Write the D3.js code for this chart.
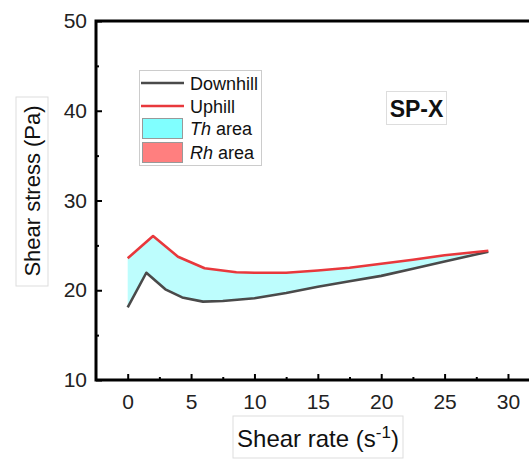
<!DOCTYPE html>
<html>
<head>
<meta charset="utf-8">
<script src="https://cdn.jsdelivr.net/npm/d3@7"></script>
<style>
  html, body { margin: 0; padding: 0; background: #fff; }
  svg { display: block; font-family: Arial, "Liberation Sans", sans-serif; }
</style>
</head>
<body>
<svg id="chart" width="529" height="461"></svg>
<script>
// Shear-rate sweeps (s^-1) and measured shear stress (Pa)
const downhillRate   = [0, 1.47, 2.97, 4.3, 5.94, 7.5, 10, 12.5, 15, 17.5, 20, 22.5, 25, 28.45];
const downhillStress = [18.1, 21.95, 20.1, 19.2, 18.73, 18.8, 19.1, 19.7, 20.4, 21.0, 21.6, 22.4, 23.2, 24.3];
const uphillRate     = [0, 2.0, 3.97, 6.07, 8.57, 10, 12.5, 15, 17.5, 20, 22.5, 25, 28.45];
const uphillStress   = [23.56, 26.04, 23.74, 22.45, 22.0, 21.95, 21.95, 22.2, 22.5, 22.95, 23.4, 23.9, 24.4];

const xTicks = [0, 5, 10, 15, 20, 25, 30];
const yTicks = [10, 20, 30, 40, 50];
const legendItems = ["Downhill", "Uphill", "Th area", "Rh area"];
const sampleName = "SP-X";

const svg = d3.select("#chart");
const x = d3.scaleLinear().domain([-2.5, 33]).range([96, 546]);
const y = d3.scaleLinear().domain([10, 50]).range([380, 21]);

const down = downhillRate.map((r, i) => [r, downhillStress[i]]);
const up = uphillRate.map((r, i) => [r, uphillStress[i]]);

// Thixotropic loop area between the two sweeps
const loop = up.concat(down.slice().reverse());
svg.append("path")
  .attr("d", d3.line().x(d => x(d[0])).y(d => y(d[1]))(loop) + "Z")
  .attr("fill", "#bdfdfd")
  .attr("stroke", "none");

const line = d3.line().x(d => x(d[0])).y(d => y(d[1]));
svg.append("path").attr("d", line(down))
  .attr("fill", "none").attr("stroke", "#4a4a4a").attr("stroke-width", 2.6)
  .attr("stroke-linejoin", "round");
svg.append("path").attr("d", line(up))
  .attr("fill", "none").attr("stroke", "#e8383c").attr("stroke-width", 2.6)
  .attr("stroke-linejoin", "round");

// Axes with inward ticks
const xAxis = svg.append("g").attr("transform", "translate(0,380)")
  .call(d3.axisBottom(x).tickValues(d3.range(0, 32.5, 2.5)).tickSize(0).tickFormat(""));
xAxis.select(".domain").remove();
xAxis.selectAll(".tick line")
  .attr("y2", d => (d % 5 === 0 ? -6 : -3))
  .attr("stroke", "#000").attr("stroke-width", 2);
svg.append("g").attr("transform", "translate(0,380)")
  .call(d3.axisBottom(x).tickValues(xTicks).tickSize(0).tickPadding(14))
  .call(g => g.select(".domain").remove())
  .selectAll("text").attr("font-size", 21).attr("fill", "#222")
  .attr("font-family", "Arial, 'Liberation Sans', sans-serif");

const yAxis = svg.append("g").attr("transform", "translate(96,0)")
  .call(d3.axisLeft(y).tickValues(d3.range(10, 50.1, 5)).tickSize(0).tickFormat(""));
yAxis.select(".domain").remove();
yAxis.selectAll(".tick line")
  .attr("x2", d => (d % 10 === 0 ? 6 : 3))
  .attr("stroke", "#000").attr("stroke-width", 2);
svg.append("g").attr("transform", "translate(96,0)")
  .call(d3.axisLeft(y).tickValues(yTicks).tickSize(0).tickPadding(9))
  .call(g => g.select(".domain").remove())
  .selectAll("text").attr("font-size", 21).attr("fill", "#222")
  .attr("font-family", "Arial, 'Liberation Sans', sans-serif");

// Frame lines
svg.append("path")
  .attr("d", `M${x(33)},${y(10)}H${x(-2.5)}V${y(50)}H${x(33)}`)
  .attr("fill", "none").attr("stroke", "#000").attr("stroke-width", 3);

// Axis titles in thin boxes
svg.append("rect").attr("x", 233).attr("y", 416).attr("width", 170).attr("height", 42)
  .attr("fill", "#fff").attr("stroke", "#ddd").attr("stroke-width", 1);
const xt = svg.append("text").attr("x", 318).attr("y", 447).attr("text-anchor", "middle")
  .attr("font-size", 24).attr("fill", "#111");
xt.append("tspan").text("Shear rate (s");
xt.append("tspan").attr("font-size", 17).attr("dy", -9).text("-1");
xt.append("tspan").attr("dy", 9).text(")");

svg.append("rect").attr("x", 16).attr("y", 97).attr("width", 32).attr("height", 189)
  .attr("fill", "#fff").attr("stroke", "#ddd").attr("stroke-width", 1);
svg.append("text").attr("transform", "translate(40,191) rotate(-90)")
  .attr("text-anchor", "middle").attr("font-size", 22).attr("fill", "#111")
  .text("Shear stress (Pa)");

// Legend
const lg = svg.append("g");
lg.append("rect").attr("x", 139.5).attr("y", 70.5).attr("width", 122).attr("height", 95)
  .attr("fill", "#fff").attr("stroke", "#ccc").attr("stroke-width", 1);
const rowY = [83, 106, 128, 152];
lg.append("line").attr("x1", 141).attr("x2", 184).attr("y1", rowY[0]).attr("y2", rowY[0])
  .attr("stroke", "#4a4a4a").attr("stroke-width", 2.6);
lg.append("line").attr("x1", 141).attr("x2", 184).attr("y1", rowY[1]).attr("y2", rowY[1])
  .attr("stroke", "#e8383c").attr("stroke-width", 2.6);
lg.append("rect").attr("x", 142.5).attr("y", 118.5).attr("width", 40).attr("height", 20)
  .attr("fill", "#80ffff").attr("stroke", "#999").attr("stroke-width", 1);
lg.append("rect").attr("x", 142.5).attr("y", 142.5).attr("width", 40).attr("height", 20)
  .attr("fill", "#ff7f7f").attr("stroke", "#999").attr("stroke-width", 1);
legendItems.forEach((name, i) => {
  const t = lg.append("text").attr("x", 190).attr("y", rowY[i] + 6.5)
    .attr("font-size", 18).attr("fill", "#111");
  if (i >= 2) {
    const parts = name.split(" ");
    t.append("tspan").attr("font-style", "italic").text(parts[0]);
    t.append("tspan").text(" " + parts.slice(1).join(" "));
  } else {
    t.text(name);
  }
});

// Sample label
svg.append("rect").attr("x", 386.5).attr("y", 91.5).attr("width", 60).attr("height", 33)
  .attr("fill", "#fff").attr("stroke", "#ddd").attr("stroke-width", 1);
svg.append("text").attr("x", 416.5).attr("y", 116.5).attr("text-anchor", "middle")
  .attr("font-size", 23).attr("font-weight", "bold").attr("fill", "#111")
  .text(sampleName);
</script>
</body>
</html>
